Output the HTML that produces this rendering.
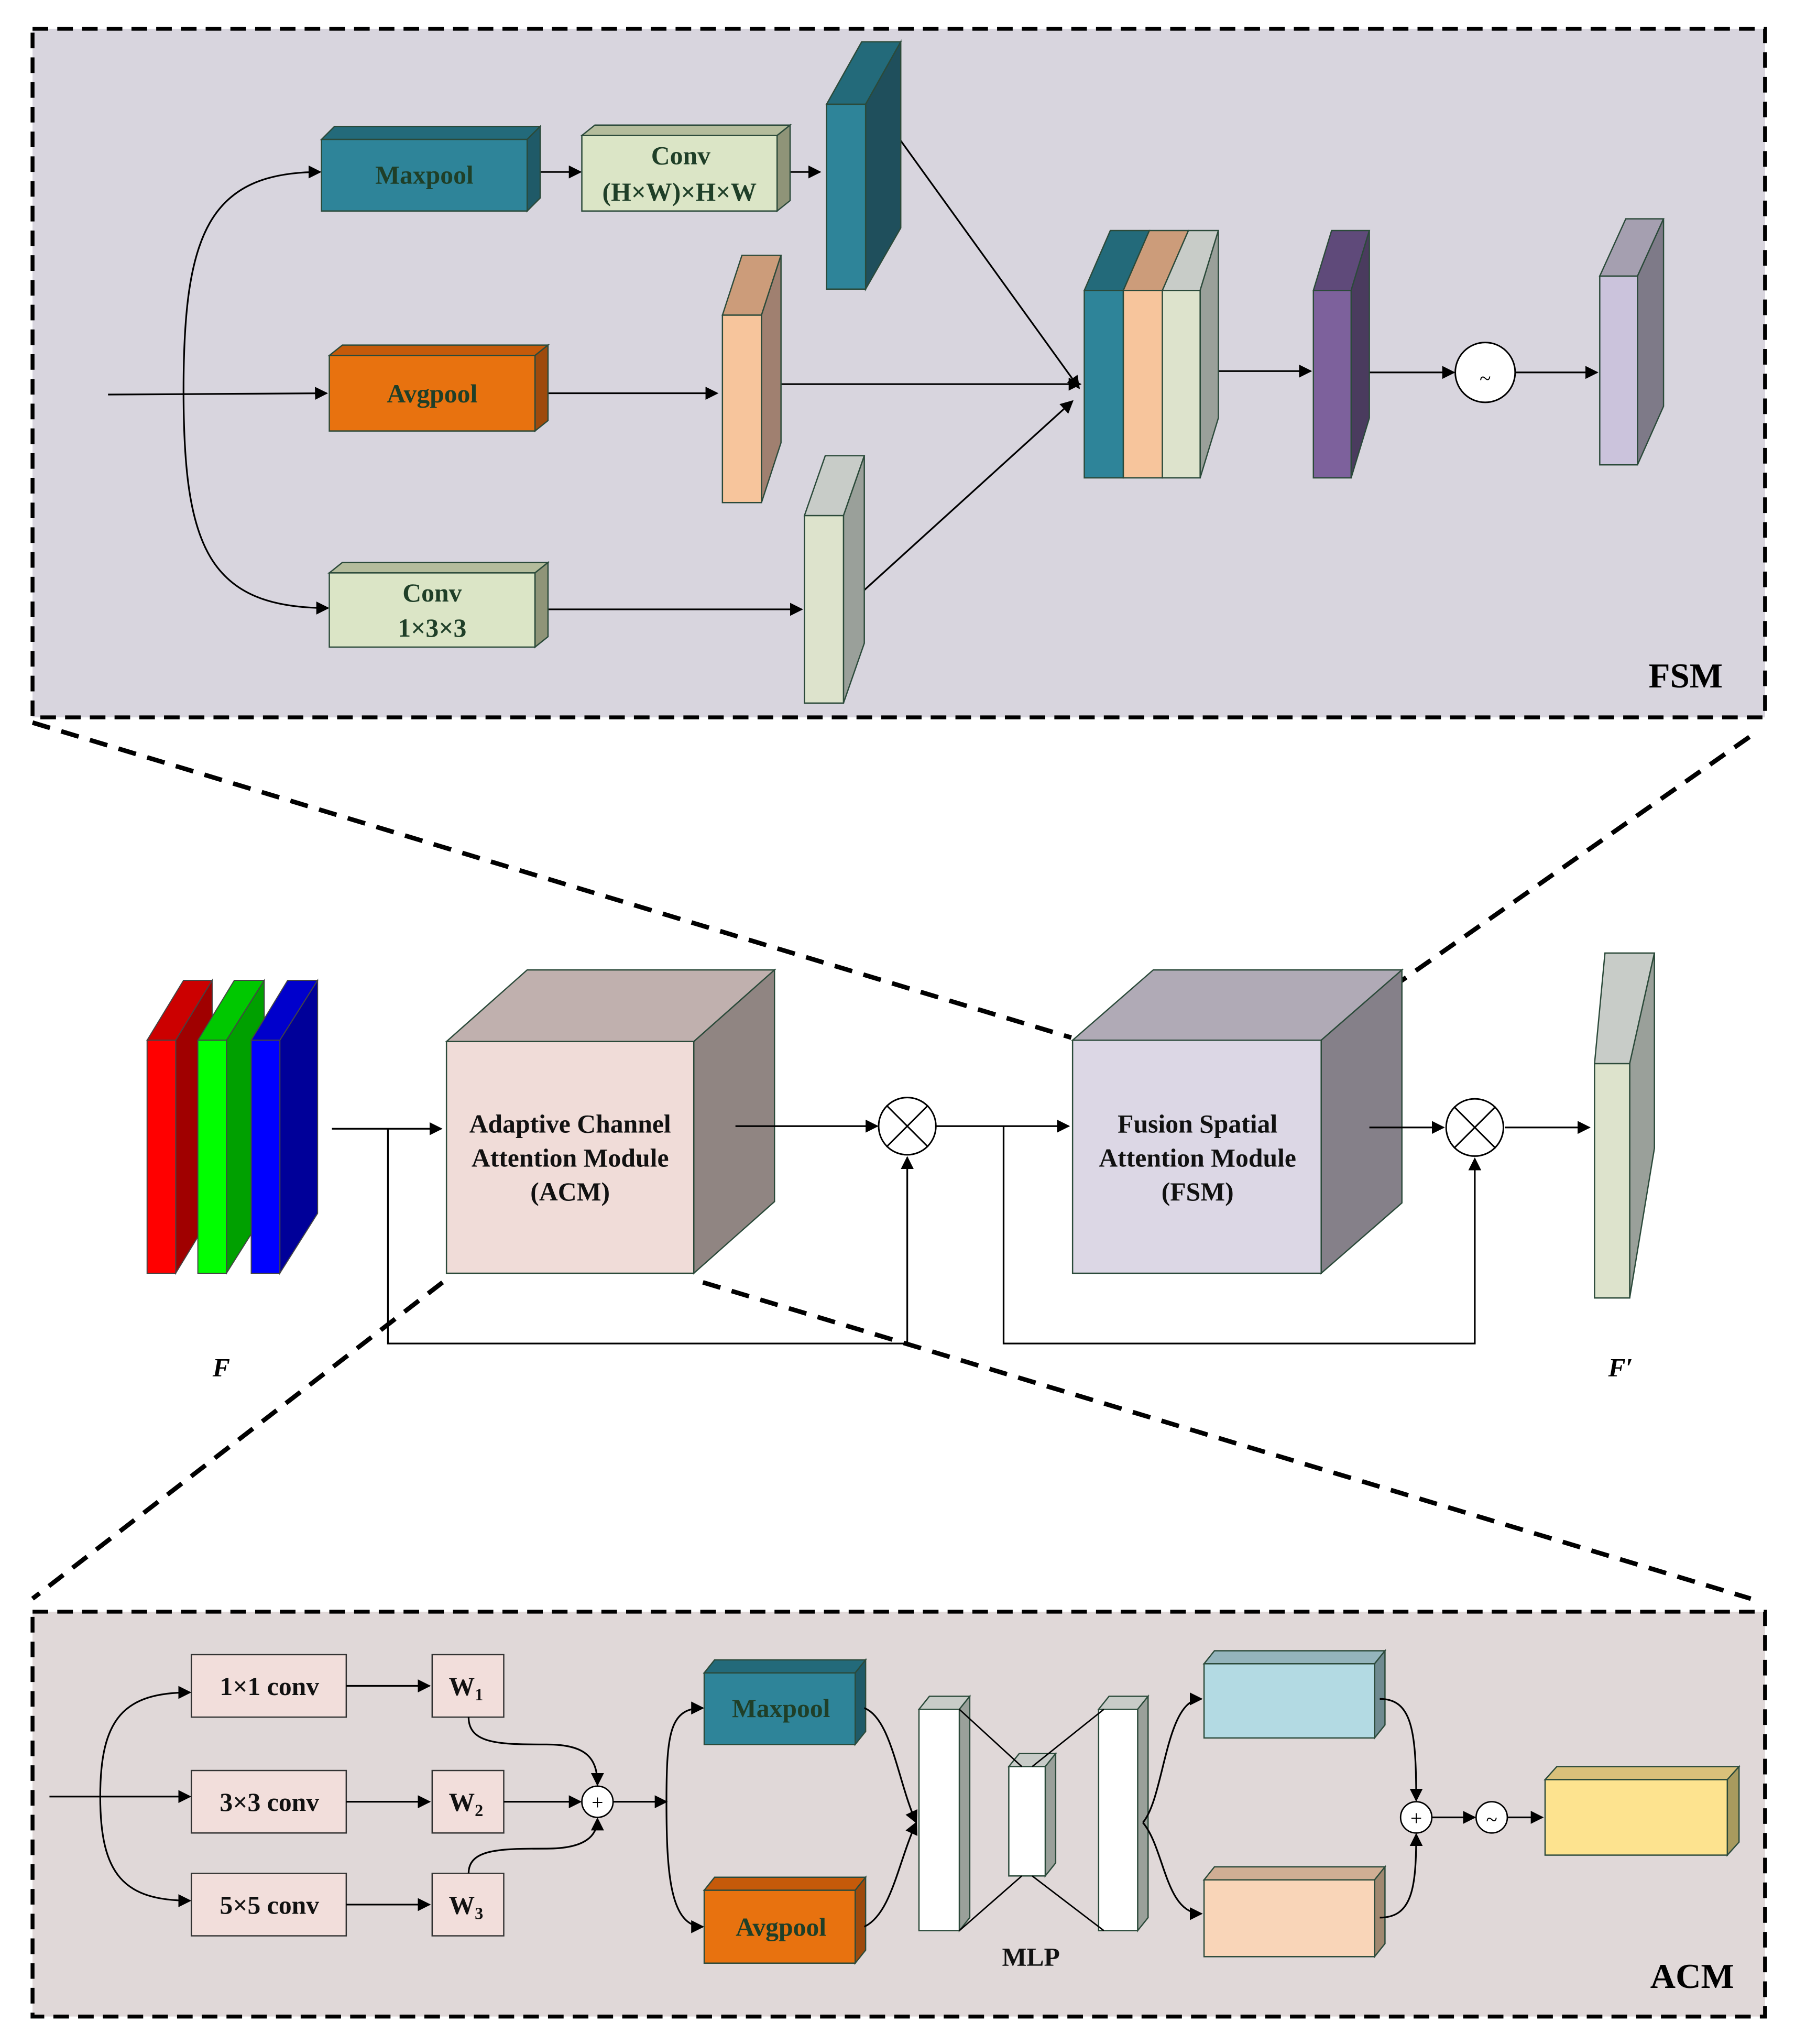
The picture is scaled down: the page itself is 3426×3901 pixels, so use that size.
<!DOCTYPE html>
<html><head><meta charset="utf-8"><style>html,body{margin:0;padding:0;background:#fff}svg{display:block}</style></head><body>
<svg width="3426" height="3901" viewBox="0 0 1379 1570" xmlns="http://www.w3.org/2000/svg" font-family="'Liberation Serif',serif" font-weight="bold">
<defs>
<marker id="a" markerWidth="10" markerHeight="10" refX="9" refY="5" orient="auto" markerUnits="userSpaceOnUse"><path d="M0,0 L10,5 L0,10 z" fill="#000"/></marker>
</defs>
<g stroke="#2b4a3a" stroke-width="1">
<rect x="25" y="22" width="1331" height="529" fill="#d8d5de" stroke="#000" stroke-width="3" stroke-dasharray="12,7"/>
</g>
<g fill="none" stroke="#000" stroke-width="1.3" marker-end="url(#a)">
<line x1="83" y1="303" x2="251" y2="302"/>
<path d="M141,300 C141,180 160,132 246,132"/>
<path d="M141,300 C141,420 160,467 252,467"/>
<line x1="405" y1="132" x2="446" y2="132"/>
<line x1="597" y1="132" x2="630" y2="132"/>
<line x1="411" y1="302" x2="551" y2="302"/>
<line x1="411" y1="468" x2="616" y2="468"/>
<line x1="692" y1="108" x2="829" y2="298"/>
<line x1="600" y1="295" x2="830" y2="295"/>
<line x1="662" y1="455" x2="824" y2="308"/>
<line x1="935" y1="285" x2="1007" y2="285"/>
<line x1="1052" y1="286" x2="1117" y2="286"/>
<line x1="1164" y1="286" x2="1227" y2="286"/>
</g>
<g stroke="#2b4a3a" stroke-width="1">
<polygon points="247,107 257,97 415,97 405,107" fill="#236a7a"/><polygon points="405,107 415,97 415,152 405,162" fill="#1f5a68"/><rect x="247" y="107" width="158" height="55" fill="#2e8499"/>
<polygon points="447,104 457,96 607,96 597,104" fill="#b4bc9c"/><polygon points="597,104 607,96 607,154 597,162" fill="#8f9478"/><rect x="447" y="104" width="150" height="58" fill="#dbe5c6"/>
<polygon points="635,80 662,32 692,32 665,80" fill="#236a7a"/><polygon points="665,80 692,32 692,175 665,222" fill="#1f4f5c"/><rect x="635" y="80" width="30" height="142" fill="#2e8499"/>
<polygon points="253,273 263,265 421,265 411,273" fill="#c55a0a"/><polygon points="411,273 421,265 421,323 411,331" fill="#9e4a0c"/><rect x="253" y="273" width="158" height="58" fill="#e8720f"/>
<polygon points="555,242 570,196 600,196 585,242" fill="#cc9c7a"/><polygon points="585,242 600,196 600,340 585,386" fill="#a08070"/><rect x="555" y="242" width="30" height="144" fill="#f7c59c"/>
<polygon points="253,440 263,432 421,432 411,440" fill="#b4bc9c"/><polygon points="411,440 421,432 421,489 411,497" fill="#8f9478"/><rect x="253" y="440" width="158" height="57" fill="#dbe5c6"/>
<polygon points="618,396 634,350 664,350 648,396" fill="#c8ccc8"/><polygon points="648,396 664,350 664,494 648,540" fill="#9aa09a"/><rect x="618" y="396" width="30" height="144" fill="#dde3cc"/>
<polygon points="833,223 853,177 883,177 863,223" fill="#236a7a"/><rect x="833" y="223" width="30" height="144" fill="#2e8499"/>
<polygon points="863,223 883,177 913,177 893,223" fill="#cc9c7a"/><rect x="863" y="223" width="30" height="144" fill="#f7c59c"/>
<polygon points="893,223 913,177 936,177 922,223" fill="#c8ccc8"/><polygon points="922,223 936,177 936,321 922,367" fill="#9aa09a"/><rect x="893" y="223" width="29" height="144" fill="#dde3cc"/>
<polygon points="1009,223 1023,177 1052,177 1038,223" fill="#5f4a7a"/><polygon points="1038,223 1052,177 1052,321 1038,367" fill="#4a3b5e"/><rect x="1009" y="223" width="29" height="144" fill="#7d619c"/>
<polygon points="1229,212 1249,168 1278,168 1258,212" fill="#a59fb0"/><polygon points="1258,212 1278,168 1278,312 1258,357" fill="#7e7a88"/><rect x="1229" y="212" width="29" height="145" fill="#cbc3dc"/>
</g>
<circle cx="1141" cy="286" r="23" fill="#fff" stroke="#000" stroke-width="1.2"/>
<text x="1141" y="296" font-size="16" text-anchor="middle" font-weight="normal">~</text>
<g fill="#1f3f28" text-anchor="middle" font-size="20">
<text x="326" y="141">Maxpool</text>
<text x="523" y="126">Conv</text><text x="522" y="154">(H×W)×H×W</text>
<text x="332" y="309">Avgpool</text>
<text x="332" y="462">Conv</text><text x="332" y="489">1×3×3</text>
</g>
<text x="1295" y="528" font-size="27" text-anchor="middle">FSM</text>

<g stroke="#000" stroke-width="3.5" stroke-dasharray="14,9" fill="none">
<line x1="25" y1="555" x2="823" y2="797"/>
<line x1="1344" y1="566" x2="1020" y2="793"/>
<line x1="340" y1="985" x2="25" y2="1228"/>
<line x1="540" y1="985" x2="1345" y2="1228"/>
</g>

<g stroke="#444" stroke-width="0.8">
<polygon points="113,799 141,753 163,753 135,799" fill="#cc0000"/><polygon points="135,799 163,753 163,932 135,978" fill="#a00000"/><rect x="113" y="799" width="22" height="179" fill="#ff0000"/>
<polygon points="152,799 180,753 203,753 174,799" fill="#00c800"/><polygon points="174,799 203,753 203,932 174,978" fill="#00a000"/><rect x="152" y="799" width="22" height="179" fill="#00ff00"/>
<polygon points="193,799 221,753 244,753 215,799" fill="#0000cc"/><polygon points="215,799 244,753 244,932 215,978" fill="#000099"/><rect x="193" y="799" width="22" height="179" fill="#0000ff"/>
</g>
<g stroke="#2b4a3a" stroke-width="1">
<polygon points="343,800 405,745 595,745 533,800" fill="#c0b0ae"/><polygon points="533,800 595,745 595,923 533,978" fill="#908582"/><rect x="343" y="800" width="190" height="178" fill="#f0dcd8"/>
<polygon points="824,799 886,745 1077,745 1015,799" fill="#b0aab6"/><polygon points="1015,799 1077,745 1077,924 1015,978" fill="#858089"/><rect x="824" y="799" width="191" height="179" fill="#dcd7e5"/>
<polygon points="1225,817 1233,732 1271,732 1252,817" fill="#c8ccc8"/><polygon points="1252,817 1271,732 1271,882 1252,997" fill="#9aa09a"/><rect x="1225" y="817" width="27" height="180" fill="#dde3cc"/>
</g>
<g fill="none" stroke="#000" stroke-width="1.3">
<line x1="255" y1="867" x2="339" y2="867" marker-end="url(#a)"/>
<line x1="565" y1="865" x2="674" y2="865" marker-end="url(#a)"/>
<polyline points="298,867 298,1032 697,1032 697,889" marker-end="url(#a)"/>
<line x1="719" y1="865" x2="821" y2="865" marker-end="url(#a)"/>
<line x1="1052" y1="866" x2="1109" y2="866" marker-end="url(#a)"/>
<polyline points="771,865 771,1032 1133,1032 1133,890" marker-end="url(#a)"/>
<line x1="1156" y1="866" x2="1221" y2="866" marker-end="url(#a)"/>
</g>
<g fill="#fff" stroke="#000" stroke-width="1.2">
<circle cx="697" cy="865" r="22"/><line x1="681" y1="849" x2="713" y2="881"/><line x1="713" y1="849" x2="681" y2="881"/>
<circle cx="1133" cy="866" r="22"/><line x1="1117" y1="850" x2="1149" y2="882"/><line x1="1149" y1="850" x2="1117" y2="882"/>
</g>
<g fill="#111" text-anchor="middle" font-size="20">
<text x="438" y="870">Adaptive Channel</text><text x="438" y="896">Attention Module</text><text x="438" y="922">(ACM)</text>
<text x="920" y="870">Fusion Spatial</text><text x="920" y="896">Attention Module</text><text x="920" y="922">(FSM)</text>
</g>
<text x="170" y="1057" font-size="20" font-style="italic" text-anchor="middle">F</text>
<text x="1245" y="1057" font-size="20" font-style="italic" text-anchor="middle">F′</text>

<rect x="25" y="1238" width="1331" height="311" fill="#e0d8d8" stroke="#000" stroke-width="3" stroke-dasharray="12,7"/>
<g stroke="#333" stroke-width="1">
<rect x="147" y="1271" width="119" height="48" fill="#f2dedb"/><rect x="147" y="1360" width="119" height="48" fill="#f2dedb"/><rect x="147" y="1439" width="119" height="48" fill="#f2dedb"/>
<rect x="332" y="1271" width="55" height="48" fill="#f2dedb"/><rect x="332" y="1360" width="55" height="48" fill="#f2dedb"/><rect x="332" y="1439" width="55" height="48" fill="#f2dedb"/>
</g>
<g stroke="#2b4a3a" stroke-width="1">
<polygon points="541,1285 549,1275 665,1275 657,1285" fill="#236a7a"/><polygon points="657,1285 665,1275 665,1330 657,1340" fill="#1f5a68"/><rect x="541" y="1285" width="116" height="55" fill="#2e8499"/>
<polygon points="541,1452 549,1442 665,1442 657,1452" fill="#c55a0a"/><polygon points="657,1452 665,1442 665,1498 657,1508" fill="#9e4a0c"/><rect x="541" y="1452" width="116" height="56" fill="#e8720f"/>
<polygon points="706,1313 714,1303 745,1303 737,1313" fill="#c8ccc8"/><polygon points="737,1313 745,1303 745,1473 737,1483" fill="#9aa09a"/><rect x="706" y="1313" width="31" height="170" fill="#fff"/>
<polygon points="775,1357 783,1347 811,1347 803,1357" fill="#c8ccc8"/><polygon points="803,1357 811,1347 811,1431 803,1441" fill="#9aa09a"/><rect x="775" y="1357" width="28" height="84" fill="#fff"/>
<polygon points="844,1313 852,1303 882,1303 874,1313" fill="#c8ccc8"/><polygon points="874,1313 882,1303 882,1473 874,1483" fill="#9aa09a"/><rect x="844" y="1313" width="30" height="170" fill="#fff"/>
<polygon points="925,1278 933,1268 1064,1268 1056,1278" fill="#94b4bc"/><polygon points="1056,1278 1064,1268 1064,1325 1056,1335" fill="#6f8a90"/><rect x="925" y="1278" width="131" height="57" fill="#b3dae3"/>
<polygon points="925,1444 933,1434 1064,1434 1056,1444" fill="#d0ae94"/><polygon points="1056,1444 1064,1434 1064,1493 1056,1503" fill="#a08870"/><rect x="925" y="1444" width="131" height="59" fill="#f9d5b8"/>
<polygon points="1187,1367 1196,1357 1336,1357 1327,1367" fill="#d9c07a"/><polygon points="1327,1367 1336,1357 1336,1415 1327,1425" fill="#a89a5e"/><rect x="1187" y="1367" width="140" height="58" fill="#fde38f"/>
</g>
<g fill="none" stroke="#000" stroke-width="1.1">
<line x1="737" y1="1313" x2="785" y2="1357"/><line x1="793" y1="1357" x2="848" y2="1313"/>
<line x1="737" y1="1483" x2="785" y2="1441"/><line x1="793" y1="1441" x2="848" y2="1483"/>
</g>
<g fill="none" stroke="#000" stroke-width="1.3" marker-end="url(#a)">
<line x1="38" y1="1380" x2="146" y2="1380"/>
<path d="M77,1380 C77,1320 95,1300 146,1300"/>
<path d="M77,1380 C77,1440 95,1460 146,1460"/>
<line x1="266" y1="1295" x2="330" y2="1295"/><line x1="266" y1="1384" x2="330" y2="1384"/><line x1="266" y1="1463" x2="330" y2="1463"/>
<path d="M360,1319 C360,1340 385,1340 420,1340 C450,1340 459,1350 459,1371"/>
<path d="M360,1439 C360,1420 385,1420 420,1420 C450,1420 459,1410 459,1397"/>
<line x1="387" y1="1384" x2="446" y2="1384"/>
<line x1="471" y1="1384" x2="512" y2="1384"/>
<path d="M512,1384 C512,1330 515,1312 540,1312"/>
<path d="M512,1384 C512,1440 515,1480 540,1480"/>
<path d="M664,1312 C685,1320 690,1370 704,1400"/>
<path d="M664,1480 C685,1470 690,1430 704,1400"/>
<path d="M878,1400 C895,1380 895,1305 923,1305"/>
<path d="M878,1400 C895,1420 895,1470 923,1470"/>
<path d="M1060,1305 C1085,1305 1088,1330 1088,1383"/>
<path d="M1060,1473 C1085,1473 1088,1450 1088,1409"/>
<line x1="1100" y1="1396" x2="1133" y2="1396"/>
<line x1="1158" y1="1396" x2="1185" y2="1396"/>
</g>
<g fill="#fff" stroke="#000" stroke-width="1.1">
<circle cx="459" cy="1384" r="12"/><circle cx="1088" cy="1396" r="12"/><circle cx="1146" cy="1396" r="12"/>
</g>
<g text-anchor="middle" font-weight="normal" font-size="16">
<text x="459" y="1390">+</text><text x="1088" y="1402">+</text><text x="1146" y="1403">~</text>
</g>
<g fill="#111" text-anchor="middle" font-size="20">
<text x="207" y="1302">1×1 conv</text><text x="207" y="1391">3×3 conv</text><text x="207" y="1470">5×5 conv</text>
<text x="358" y="1302">W<tspan font-size="13" dy="4">1</tspan></text>
<text x="358" y="1391">W<tspan font-size="13" dy="4">2</tspan></text>
<text x="358" y="1470">W<tspan font-size="13" dy="4">3</tspan></text>
<text x="792" y="1510">MLP</text>
</g>
<g fill="#1f3f28" text-anchor="middle" font-size="20">
<text x="600" y="1319">Maxpool</text><text x="600" y="1487">Avgpool</text>
</g>
<text x="1300" y="1527" font-size="27" text-anchor="middle">ACM</text>
</svg>
</body></html>
